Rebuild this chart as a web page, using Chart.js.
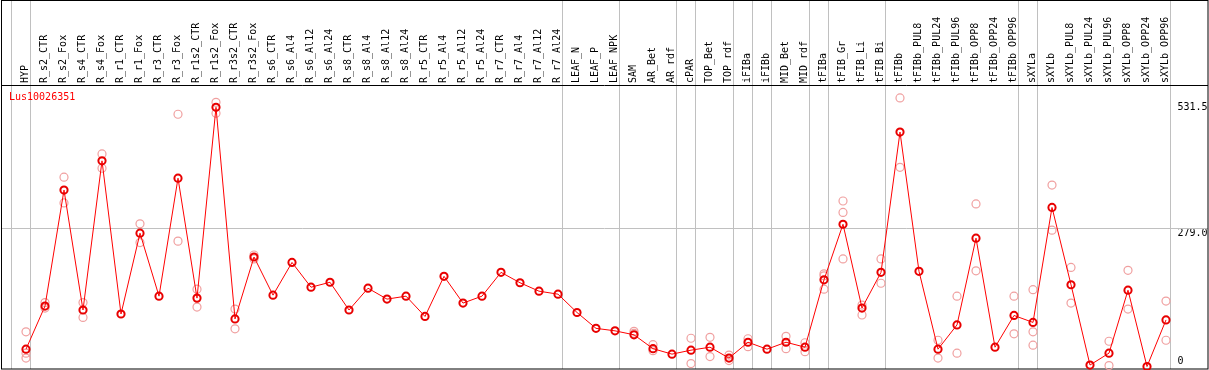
<!DOCTYPE html>
<html>
<head>
<meta charset="utf-8">
<script src="https://cdn.jsdelivr.net/npm/chart.js@4.4.1/dist/chart.umd.min.js"></script>
<style>
  html, body { margin: 0; padding: 0; background: #fff; }
  #wrap { width: 1209px; height: 370px; }
</style>
</head>
<body>
<div id="wrap"><canvas id="chart" width="1209" height="370"></canvas></div>
<script>
// ---- data ----------------------------------------------------------------
const geneName = 'Lus10026351';

const samples = [
  'HYP', 'R_s2_CTR', 'R_s2_Fox', 'R_s4_CTR', 'R_s4_Fox', 'R_r1_CTR', 'R_r1_Fox',
  'R_r3_CTR', 'R_r3_Fox', 'R_r1s2_CTR', 'R_r1s2_Fox', 'R_r3s2_CTR', 'R_r3s2_Fox',
  'R_s6_CTR', 'R_s6_Al4', 'R_s6_Al12', 'R_s6_Al24', 'R_s8_CTR', 'R_s8_Al4',
  'R_s8_Al12', 'R_s8_Al24', 'R_r5_CTR', 'R_r5_Al4', 'R_r5_Al12', 'R_r5_Al24',
  'R_r7_CTR', 'R_r7_Al4', 'R_r7_Al12', 'R_r7_Al24', 'LEAF_N', 'LEAF_P', 'LEAF_NPK',
  'SAM', 'AR_Bet', 'AR_rdf', 'cPAR', 'TOP_Bet', 'TOP_rdf', 'iFIBa', 'iFIBb',
  'MID_Bet', 'MID_rdf', 'tFIBa', 'tFIB_Gr', 'tFIB_Li', 'tFIB_Bi', 'tFIBb',
  'tFIBb_PUL8', 'tFIBb_PUL24', 'tFIBb_PUL96', 'tFIBb_OPP8', 'tFIBb_OPP24', 'tFIBb_OPP96',
  'sXYLa', 'sXYLb', 'sXYLb_PUL8', 'sXYLb_PUL24', 'sXYLb_PUL96', 'sXYLb_OPP8',
  'sXYLb_OPP24', 'sXYLb_OPP96'
];

// mean expression per sample
const means = [
  35, 122, 356, 114, 415, 106, 269, 142, 380, 138, 523, 96, 221,
  144, 210, 160, 170, 114, 158, 136, 142, 101, 182, 128, 142,
  190, 169, 152, 146, 109, 77, 72,
  64, 36, 25, 33, 39, 17, 49, 35, 49, 39,
  175, 287, 118, 190, 473, 192, 35, 84, 259, 39, 103,
  89, 321, 165, 3, 27, 154, 0, 94
];

// individual replicates (null = hidden under the mean)
const rep1 = [
  70, 129, 382, 129, 429, null, 288, null, 509, 156, 533, 116, 225,
  null, null, null, null, null, null, null, null, null, null, null, null,
  null, null, null, null, null, null, null,
  71, 44, null, 57, 59, 23, 56, null, 61, 48,
  187, 334, 124, 217, 542, null, 53, 142, 328, null, 142,
  155, 366, 200, null, 51, 194, null, 132
];
const rep2 = [
  27, 118, 330, 99, 400, null, 250, null, 253, 120, 511, 76, 217,
  null, null, null, null, null, null, null, null, null, null, null, null,
  null, null, null, null, null, null, null,
  67, 32, null, 6, 20, 12, 40, null, 36, 30,
  156, 311, 104, 168, 402, null, 17, 27, 193, null, 66,
  70, 275, 128, null, 2, 116, null, 53
];
const rep3 = [
  17, null, null, null, null, null, null, null, null, null, null, null, null,
  null, null, null, null, null, null, null, null, null, null, null, null,
  null, null, null, null, null, null, null,
  null, null, null, null, null, null, null, null, null, null,
  183, 217, null, null, null, null, null, null, null, null, null,
  43, null, null, null, null, null, null, null
];

// y tick values shown on the right
const yTicks = [0, 279, 531.5];
const yTickLabels = ['0    ', '279.0', '531.5'];

// sample index after which a group separator is drawn
const groupEnds = [-1, 0, 28, 31, 34, 35, 37, 38, 39, 41, 42, 45, 52, 53, 60];

// ---- chart ---------------------------------------------------------------
const MONO = "'DejaVu Sans Mono', 'Liberation Mono', monospace";

const framePlugin = {
  id: 'frame',
  beforeDatasetsDraw(chart) {
    const { ctx, width, height } = chart;
    const xs = chart.scales.x;
    const ys = chart.scales.y;
    ctx.save();
    ctx.lineWidth = 1;
    ctx.strokeStyle = '#c0c0c0';
    groupEnds.forEach((k) => {
      const x = Math.round(xs.getPixelForValue(k) + 4) + 0.5;
      ctx.beginPath();
      ctx.moveTo(x, 0);
      ctx.lineTo(x, height - 1);
      ctx.stroke();
    });
    const gy = Math.round(ys.getPixelForValue(279)) + 0.5;
    ctx.beginPath();
    ctx.moveTo(1, gy);
    ctx.lineTo(width - 1, gy);
    ctx.stroke();

    ctx.strokeStyle = '#000';
    ctx.strokeRect(1.5, 0.5, width - 2.5, height - 1.5);
    const hy = Math.round(chart.chartArea.top) + 0.5;
    ctx.beginPath();
    ctx.moveTo(1, hy);
    ctx.lineTo(width - 1, hy);
    ctx.stroke();

    ctx.fillStyle = '#ff0000';
    ctx.font = '10px ' + MONO;
    ctx.textBaseline = 'middle';
    ctx.fillText(geneName, 9, 97);
    ctx.restore();
  },
};

const repDataset = (values) => ({
  type: 'line',
  data: values,
  showLine: false,
  pointRadius: 4,
  pointHoverRadius: 4,
  pointBorderWidth: 1.2,
  pointBorderColor: '#f0a0a0',
  pointBackgroundColor: 'rgba(0,0,0,0)',
  order: 2,
  clip: false,
});

new Chart(document.getElementById('chart'), {
  type: 'line',
  data: {
    labels: samples,
    datasets: [
      {
        data: means,
        borderColor: '#ff0000',
        borderWidth: 1,
        tension: 0,
        pointRadius: 3.6,
        pointHoverRadius: 3.6,
        pointBorderWidth: 2,
        pointBorderColor: '#e80000',
        pointBackgroundColor: 'rgba(0,0,0,0)',
        order: 0,
        clip: false,
      },
      repDataset(rep1),
      repDataset(rep2),
      repDataset(rep3),
    ],
  },
  options: {
    responsive: false,
    animation: false,
    events: [],
    layout: { autoPadding: false, padding: { left: 16.5, right: 0, top: 0, bottom: 1 } },
    plugins: { legend: { display: false }, tooltip: { enabled: false } },
    scales: {
      x: {
        type: 'category',
        position: 'top',
        offset: true,
        grid: { display: false, drawTicks: false },
        border: { display: false },
        afterFit: (s) => {
          s.height = 85;
          s.paddingLeft = 0;
          s.paddingRight = 0;
        },
        ticks: {
          autoSkip: false,
          minRotation: 90,
          maxRotation: 90,
          padding: 2,
          labelOffset: 11.5,
          color: '#000',
          font: { family: MONO, size: 10 },
        },
      },
      y: {
        position: 'right',
        min: -5,
        max: 568,
        grid: { display: false, drawTicks: false },
        border: { display: false },
        afterFit: (s) => {
          s.width = 33.5;
          s.paddingTop = 0;
          s.paddingBottom = 0;
        },
        afterBuildTicks: (s) => { s.ticks = yTicks.map((v) => ({ value: v })); },
        ticks: {
          padding: 2,
          crossAlign: 'near',
          color: '#000',
          font: { family: MONO, size: 10, lineHeight: 0.95 },
          callback: (v) => {
            const lbl = yTickLabels[yTicks.indexOf(v)];
            return v === 0 ? [lbl, ''] : ['', lbl];
          },
        },
      },
    },
  },
  plugins: [framePlugin],
});
</script>
</body>
</html>
